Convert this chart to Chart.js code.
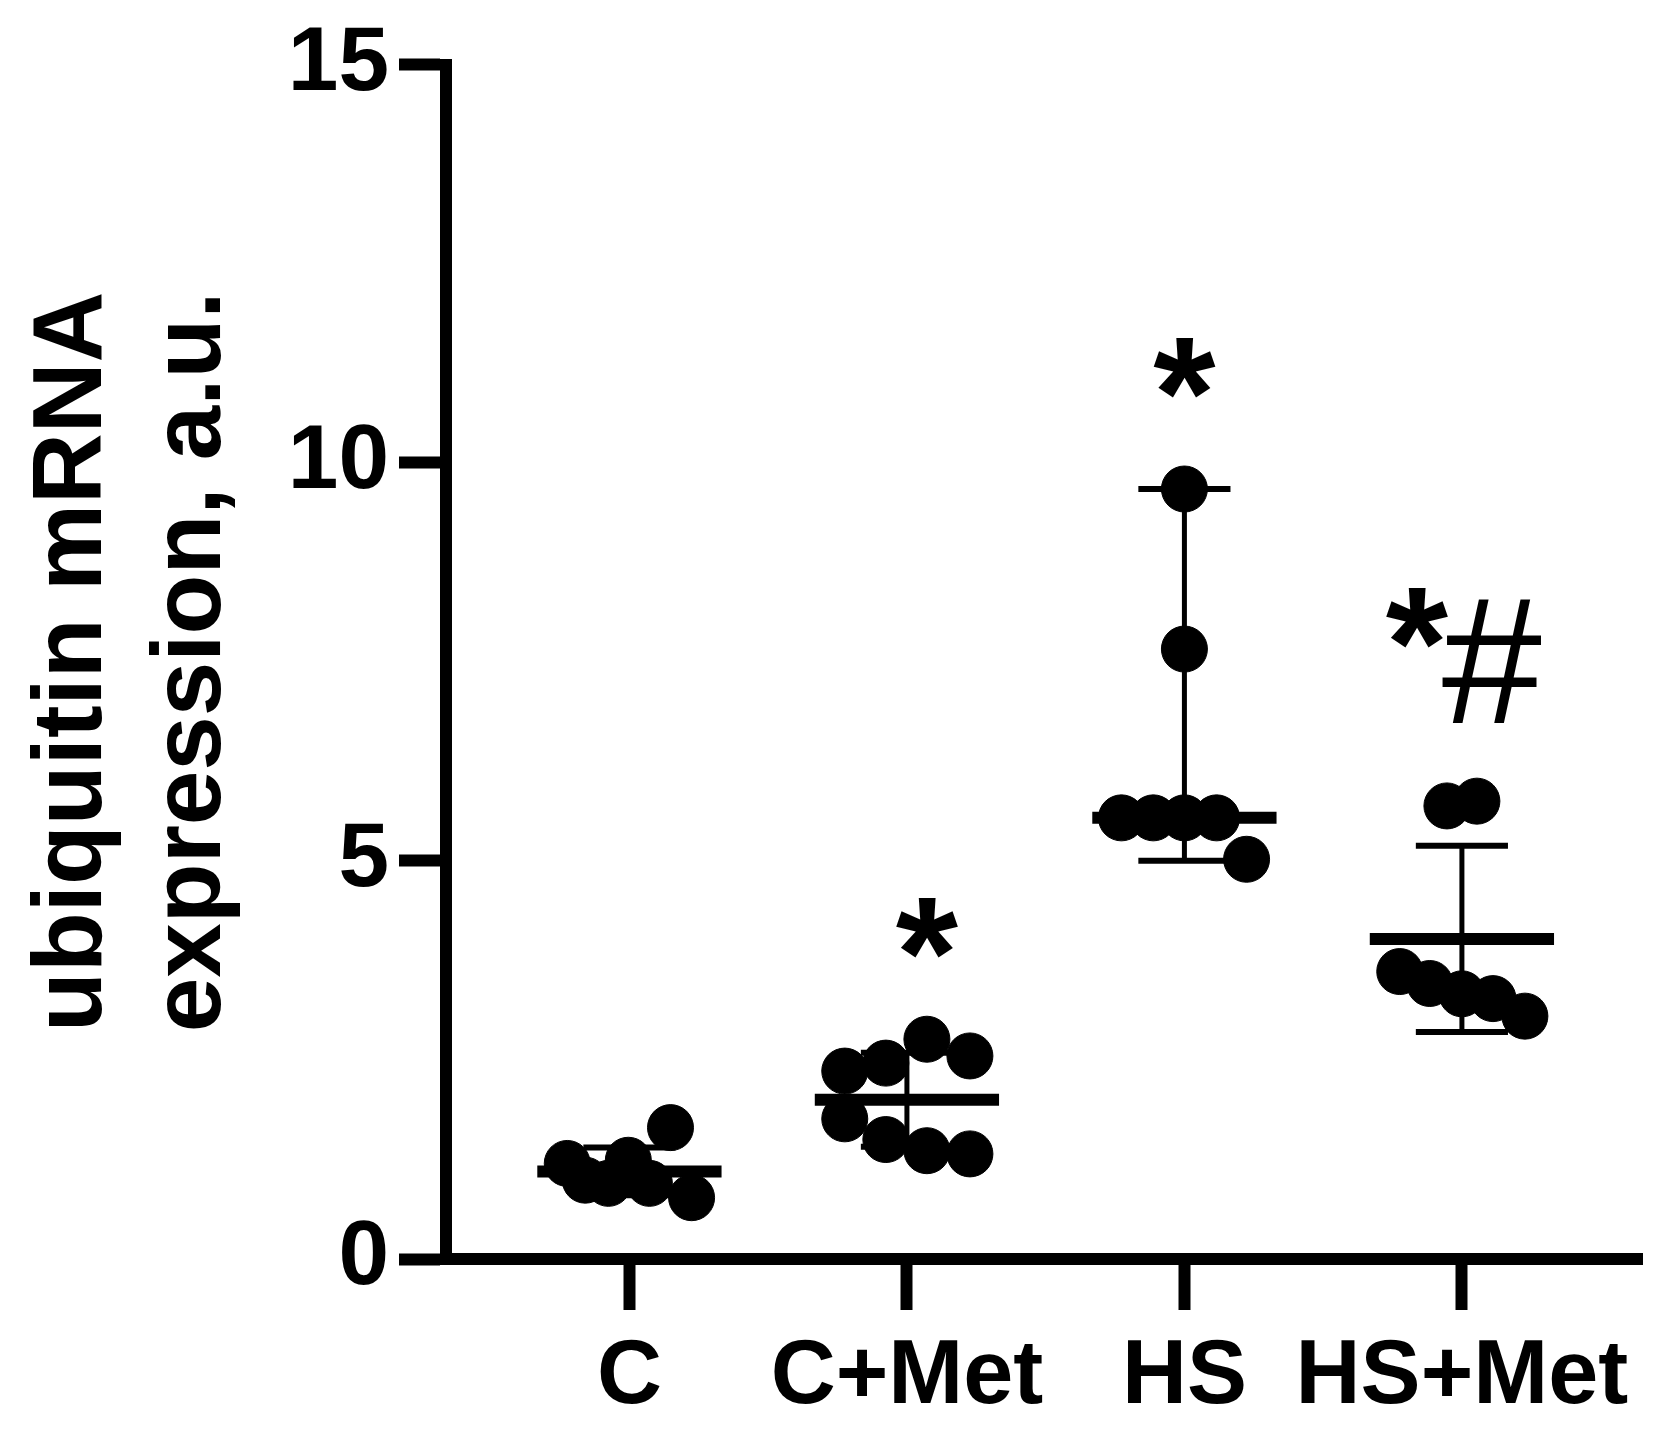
<!DOCTYPE html>
<html>
<head>
<meta charset="utf-8">
<script src="https://cdn.jsdelivr.net/npm/chart.js@4.4.1/dist/chart.umd.min.js"></script>
<style>
  body { margin: 0; background: #fff; }
  #wrap { width: 1677px; height: 1429px; }
</style>
</head>
<body>
<div id="wrap"><canvas id="myChart" width="1677" height="1429"></canvas></div>
<script>
var groups = ["C", "C+Met", "HS", "HS+Met"];

// individual values, with their horizontal scatter
var cValues = [1.20, 0.99, 0.95, 1.24, 0.95, 1.65, 0.77];
var cJitter = [-0.224, -0.159, -0.076, -0.004, 0.072, 0.148, 0.224];
var cMetValues = [2.36, 2.46, 2.76, 2.55, 1.76, 1.50, 1.36, 1.32];
var cMetJitter = [-0.224, -0.076, 0.072, 0.227, -0.224, -0.076, 0.072, 0.227];
var hsValues = [9.67, 7.66, 5.54, 5.54, 5.54, 5.54, 5.02];
var hsJitter = [0, 0, -0.227, -0.112, 0, 0.116, 0.224];
var hsMetValues = [5.69, 5.75, 3.61, 3.46, 3.33, 3.27, 3.05];
var hsMetJitter = [-0.054, 0.054, -0.224, -0.116, 0, 0.112, 0.227];

// centre line and error bar ends as drawn
var centers = [1.10, 2.00, 5.54, 4.02];
var errLow = [0.80, 1.41, 5.00, 2.85];
var errHigh = [1.40, 2.59, 9.67, 5.19];

// significance marks: text, group position, baseline value
var marks = [
  { text: "*", x: 2.072, y: 3.15 },
  { text: "*", x: 3.0, y: 10.19 },
  { text: "*", x: 3.838, y: 7.05 },
  { text: "#", x: 4.108, y: 6.73 }
];

Chart.defaults.font.family = "'Liberation Sans', Arial, sans-serif";
Chart.defaults.color = "#000";

var allValues = [cValues, cMetValues, hsValues, hsMetValues];
var allJitter = [cJitter, cMetJitter, hsJitter, hsMetJitter];

var datasets = [];

for (var g = 0; g < groups.length; g++) {
  var pos = g + 1;
  // centre line
  datasets.push({
    data: [{ x: pos - 0.332, y: centers[g] }, { x: pos + 0.332, y: centers[g] }],
    showLine: true, borderColor: "#000", borderWidth: 12, pointRadius: 0, borderCapStyle: "butt"
  });
  // whisker
  datasets.push({
    data: [{ x: pos, y: errLow[g] }, { x: pos, y: errHigh[g] }],
    showLine: true, borderColor: "#000", borderWidth: 5, pointRadius: 0, borderCapStyle: "butt"
  });
  // caps
  datasets.push({
    data: [{ x: pos - 0.166, y: errHigh[g] }, { x: pos + 0.166, y: errHigh[g] }],
    showLine: true, borderColor: "#000", borderWidth: 6, pointRadius: 0, borderCapStyle: "butt"
  });
  datasets.push({
    data: [{ x: pos - 0.166, y: errLow[g] }, { x: pos + 0.166, y: errLow[g] }],
    showLine: true, borderColor: "#000", borderWidth: 6, pointRadius: 0, borderCapStyle: "butt"
  });
  // points
  var pts = [];
  for (var i = 0; i < allValues[g].length; i++) {
    pts.push({ x: pos + allJitter[g][i], y: allValues[g][i] });
  }
  datasets.push({
    data: pts,
    showLine: false,
    pointRadius: 23,
    pointBackgroundColor: "#000",
    pointBorderColor: "#000",
    pointBorderWidth: 1
  });
}

var marksPlugin = {
  id: "marks",
  afterDatasetsDraw: function (chart) {
    var ctx = chart.ctx;
    var xs = chart.scales.x, ys = chart.scales.y;
    ctx.save();
    ctx.fillStyle = "#000";
    ctx.textAlign = "center";
    ctx.textBaseline = "alphabetic";
    marks.forEach(function (m) {
      // asterisks are heavy, the hash is a plain weight
      ctx.font = m.text === "*"
        ? "bold 160px 'Liberation Sans', Arial, sans-serif"
        : "180px 'Liberation Sans', Arial, sans-serif";
      ctx.fillText(m.text, xs.getPixelForValue(m.x), ys.getPixelForValue(m.y));
    });
    ctx.restore();
  }
};

new Chart("myChart", {
  type: "scatter",
  data: { datasets: datasets },
  plugins: [marksPlugin],
  options: {
    responsive: false,
    animation: false,
    layout: { padding: { top: 57, right: 35, left: 0, bottom: 0 } },
    plugins: { legend: { display: false }, tooltip: { enabled: false } },
    scales: {
      x: {
        type: "linear",
        min: 0.339,
        max: 4.649,
        afterBuildTicks: function (scale) {
          scale.ticks = [1, 2, 3, 4].map(function (v) { return { value: v }; });
        },
        afterFit: function (scale) { scale.height = 170; },
        ticks: {
          autoSkip: false,
          maxRotation: 0,
          minRotation: 0,
          padding: 14,
          font: { size: 90, weight: "bold" },
          callback: function (v) { return groups[v - 1]; }
        },
        grid: { drawOnChartArea: false, tickLength: 51, tickWidth: 12, tickColor: "#000" },
        border: { display: true, width: 12, color: "#000" }
      },
      y: {
        min: 0,
        max: 15,
        afterFit: function (scale) { scale.width = 446; },
        ticks: {
          stepSize: 5,
          padding: 10,
          font: { size: 91, weight: "bold" }
        },
        grid: { drawOnChartArea: false, tickLength: 47, tickWidth: 12, tickColor: "#000" },
        border: { display: true, width: 12, color: "#000" },
        title: {
          display: true,
          text: ["ubiquitin mRNA", "expression, a.u."],
          color: "#000",
          font: { size: 98, weight: "bold", lineHeight: 1.22 },
          padding: { top: 14, bottom: 0 }
        }
      }
    }
  }
});
</script>
</body>
</html>
